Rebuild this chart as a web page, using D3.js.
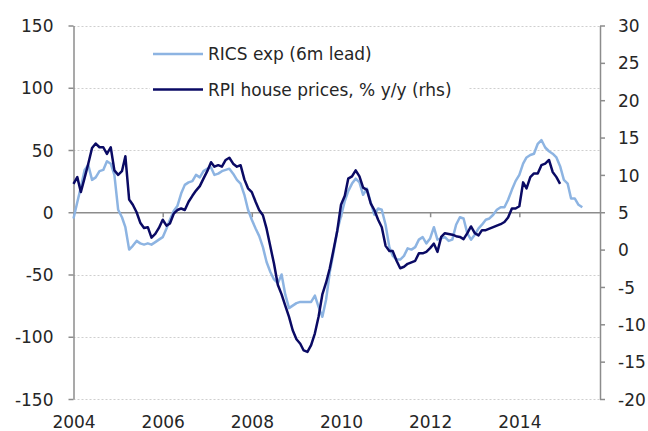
<!DOCTYPE html>
<html><head><meta charset="utf-8">
<script src="https://cdn.jsdelivr.net/npm/d3@7"></script>
<style>
body{margin:0;background:#fff}
text{font-family:"DejaVu Sans",sans-serif;fill:#262626}
</style>
</head><body><svg id="c" width="648" height="431"></svg>
<script>
// Monthly data starting January 2004
const startYear = 2004;
const ricsExp = [
 -5, 8, 20, 34, 38, 26, 28, 33, 34, 41, 39, 30,
 2, -4, -12, -30, -27, -23, -25, -26, -25, -26, -24, -22,
 -20, -13, -6, 1, 5, 15, 22, 24, 25, 30, 28, 33,
 35, 36, 30, 31, 33, 34, 35, 31, 26, 23, 14, 2,
 -6, -13, -19, -28, -40, -48, -54, -57, -50, -66, -77, -75,
 -73, -72, -72, -72, -72, -67, -76, -84, -70, -48, -32, -15,
 -3, 9, 17, 23, 27, 24, 14, 19, 8, -2, 3, 2,
 -10, -28, -35, -38, -38, -35, -29, -30, -28, -22, -20, -25,
 -21, -12, -22, -21, -20, -23, -22, -10, -4, -5, -17, -22,
 -18, -13, -10, -6, -5, -2, 2, 4, 4, 10, 18, 25,
 30, 39, 44, 46, 47, 55, 58, 52, 49, 47, 44, 37,
 26, 23, 11, 11, 6, 4
];
const rpiHousePrices = [
 8.8, 9.7, 7.7, 9.6, 11.5, 13.6, 14.2, 13.7, 13.7, 12.8, 13.7, 10.6,
 10.0, 10.5, 12.5, 6.7, 6.0, 5.0, 3.6, 2.9, 3.0, 1.6, 2.1, 2.9,
 4.0, 3.2, 3.5, 4.8, 5.3, 5.5, 5.3, 6.4, 7.2, 7.9, 8.5, 9.5,
 10.5, 11.7, 11.1, 11.3, 11.1, 12.0, 12.3, 11.5, 11.1, 11.3, 9.4, 8.2,
 7.7, 6.4, 5.3, 4.6, 2.8, 0.4, -1.9, -4.7, -6.0, -7.5, -9.0, -10.8,
 -12.0, -12.6, -13.5, -13.7, -12.8, -11.2, -9.0, -6.0, -4.4, -2.5, 0.0, 2.5,
 6.0, 7.2, 9.5, 9.8, 10.6, 9.8, 8.3, 8.0, 6.2, 5.3, 4.0, 3.0,
 0.5, -0.2, -0.2, -1.5, -2.5, -2.3, -1.9, -1.7, -1.5, -0.5, -0.5, -0.3,
 0.2, 0.8, -0.3, 1.7, 2.2, 2.1, 2.0, 1.8, 1.7, 1.4, 2.2, 3.1,
 2.2, 1.9, 2.6, 2.6, 2.8, 3.0, 3.2, 3.4, 3.7, 4.3, 5.5, 5.5,
 5.8, 9.0, 8.2, 9.7, 10.2, 10.2, 11.3, 11.5, 12.0, 10.4, 9.7, 8.8
];
const leftTicks = [-150, -100, -50, 0, 50, 100, 150];
const rightTicks = [-20, -15, -10, -5, 0, 5, 10, 15, 20, 25, 30];
const yearTicks = [2004, 2006, 2008, 2010, 2012, 2014];
const seriesNames = ["RICS exp (6m lead)", "RPI house prices, % y/y (rhs)"];
const seriesColors = ["#8db4e2", "#0a0a64"];

const svg = d3.select("#c");
const pL = 73.5, pR = 600, pT = 25.5, pB = 399;
const x = d3.scaleTime().domain([new Date(2004, 0, 1), new Date(2015, 9, 24)]).range([pL, pR]);
const yL = d3.scaleLinear().domain([-150, 150]).range([pB, pT]);
const yR = d3.scaleLinear().domain([-20, 30]).range([pB, pT]);
const date = i => new Date(startYear, i, 1);
const plain = d => String(d);

// gridlines
svg.append("g").selectAll("line").data(leftTicks.filter(d => d !== 0)).join("line")
  .attr("x1", pL).attr("x2", pR)
  .attr("y1", d => Math.round(yL(d)) + 0.5).attr("y2", d => Math.round(yL(d)) + 0.5)
  .attr("stroke", "#cfcfcf").attr("stroke-width", 1).attr("stroke-dasharray", "2,2");

// legend background
const lg = svg.append("g");
lg.append("rect").attr("x", 150).attr("y", 38).attr("width", 318).attr("height", 68).attr("fill", "#fff");

// axes
const axL = svg.append("g").attr("transform", `translate(${pL},0)`)
  .call(d3.axisLeft(yL).tickValues(leftTicks).tickFormat(plain).tickSize(5).tickSizeOuter(0).tickPadding(15));
const axR = svg.append("g").attr("transform", `translate(${pR},0)`)
  .call(d3.axisRight(yR).tickValues(rightTicks).tickFormat(plain).tickSize(5).tickSizeOuter(0).tickPadding(13));
const axX = svg.append("g").attr("transform", `translate(0,${yL(0)})`)
  .call(d3.axisBottom(x).tickValues(yearTicks.map(y => new Date(y, 0, 1))).tickFormat(d3.timeFormat("%Y")).tickSize(5).tickSizeOuter(0));
axX.selectAll("text").attr("y", 428 - yL(0)).attr("dy", 0);
[axL, axR, axX].forEach(a => {
  a.select(".domain").attr("stroke", "#8c8c8c").attr("stroke-width", 1.5);
  a.selectAll(".tick line").attr("stroke", "#8c8c8c").attr("stroke-width", 1.5);
  a.selectAll("text").style("font-size", "17px").attr("fill", "#262626");
});
axL.selectAll("text").attr("dy", "0.36em");
axR.selectAll("text").attr("dy", "0.36em");

// lines
const lineL = d3.line().x((d, i) => x(date(i))).y(d => yL(d));
const lineR = d3.line().x((d, i) => x(date(i))).y(d => yR(d));
svg.append("path").attr("d", lineL(ricsExp)).attr("fill", "none")
  .attr("stroke", seriesColors[0]).attr("stroke-width", 2.5).attr("stroke-linejoin", "round");
svg.append("path").attr("d", lineR(rpiHousePrices)).attr("fill", "none")
  .attr("stroke", seriesColors[1]).attr("stroke-width", 2.5).attr("stroke-linejoin", "round");

// legend
const legY = [54, 89.5];
seriesNames.forEach((n, i) => {
  lg.append("line").attr("x1", 153).attr("x2", 203).attr("y1", legY[i]).attr("y2", legY[i])
    .attr("stroke", seriesColors[i]).attr("stroke-width", 2.5);
  lg.append("text").attr("x", 208).attr("y", legY[i]).attr("dy", "0.36em")
    .style("font-size", "17px").text(n);
});
</script></body></html>
